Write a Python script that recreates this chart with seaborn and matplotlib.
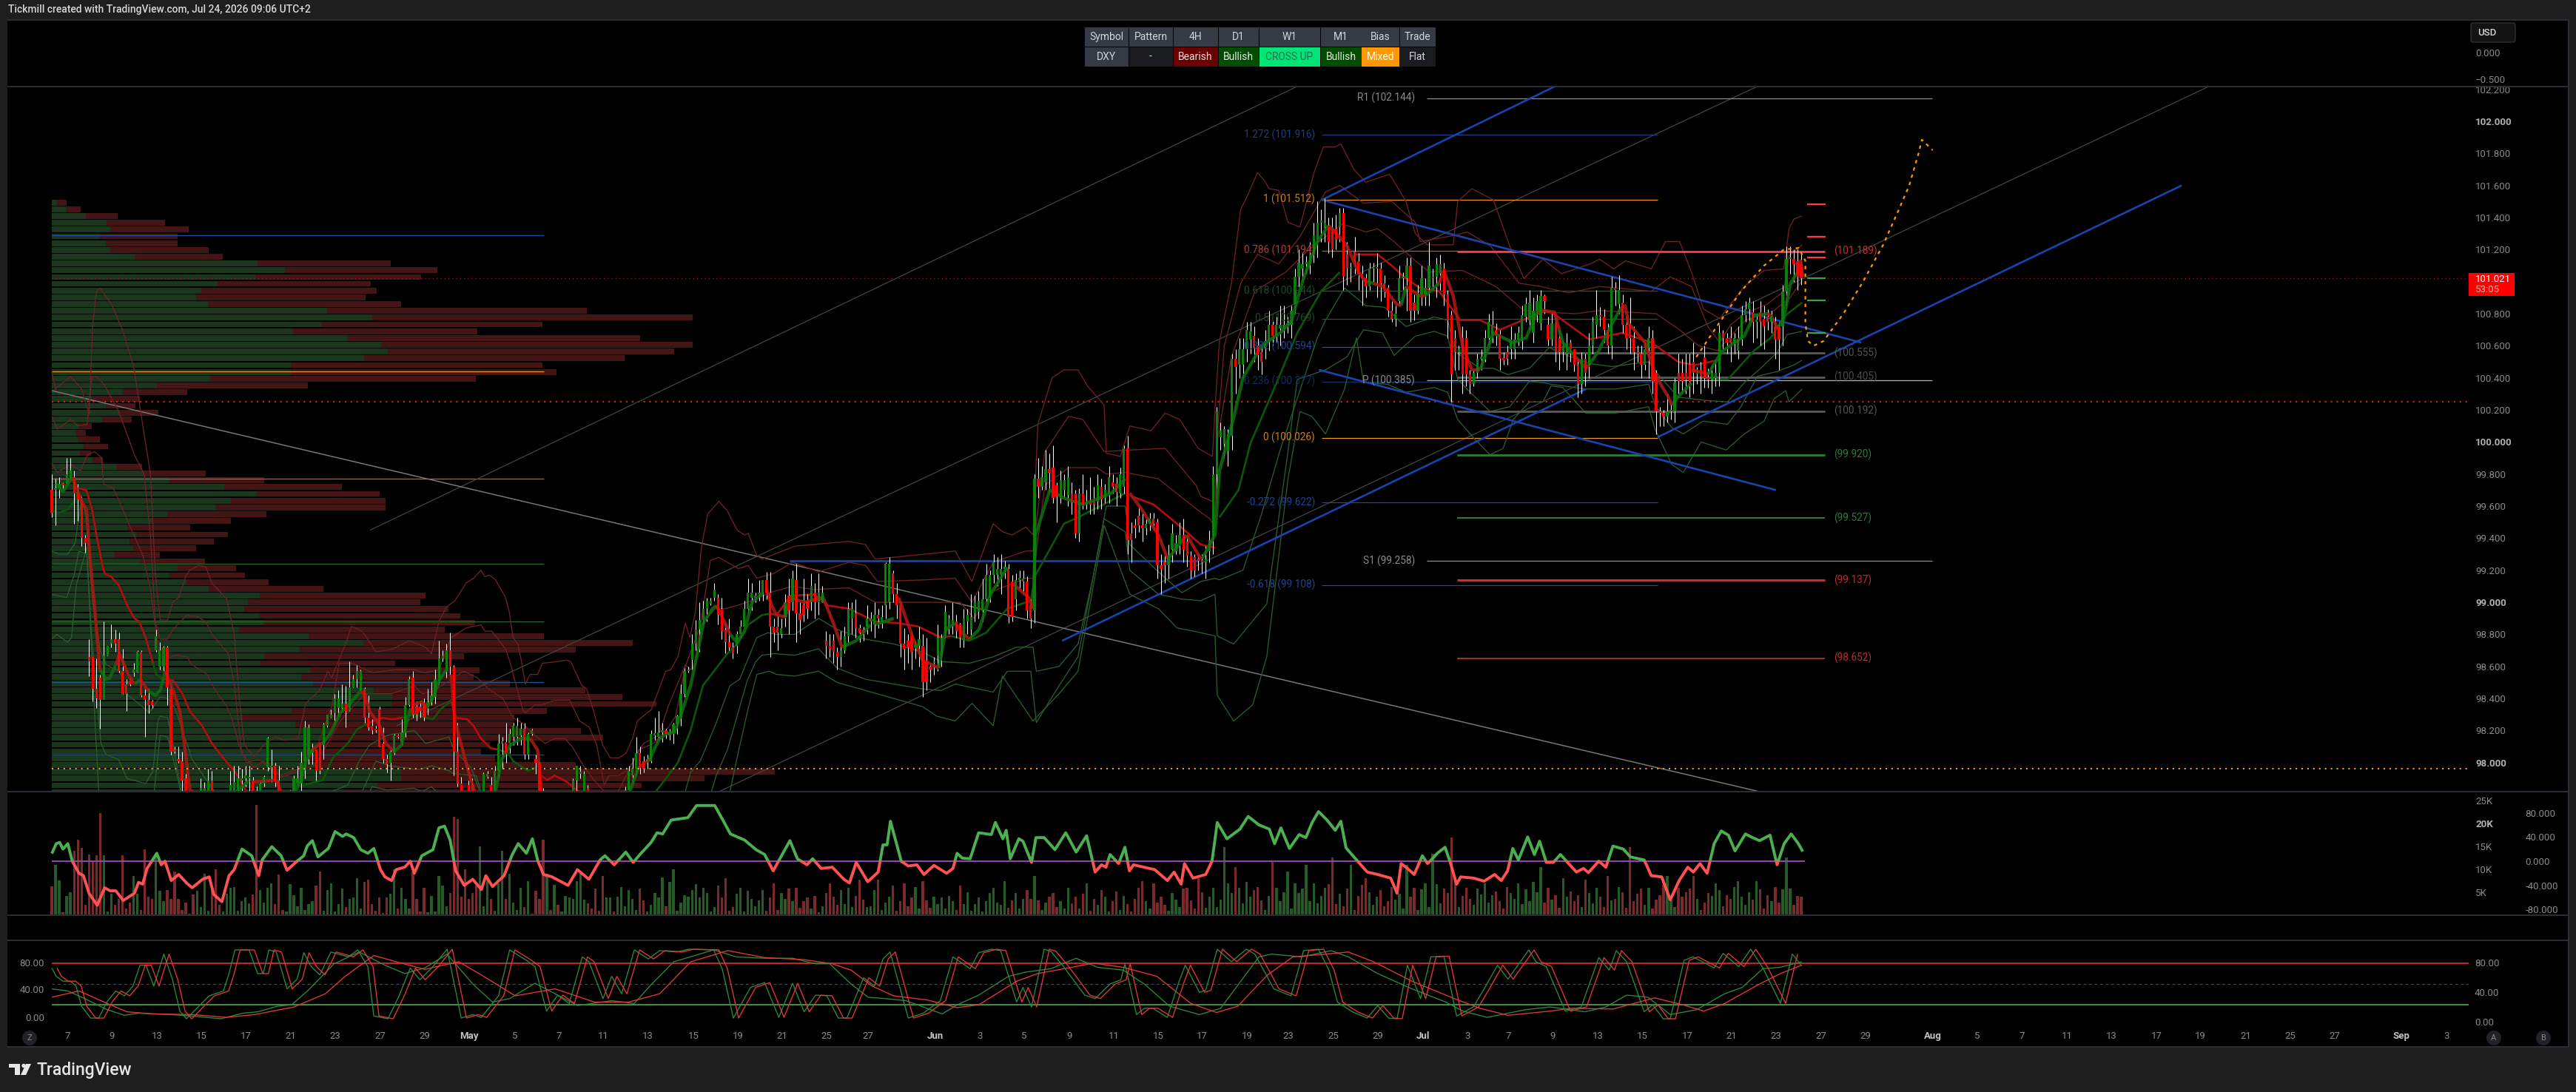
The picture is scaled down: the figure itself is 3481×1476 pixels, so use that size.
import matplotlib
matplotlib.use("Agg")
import matplotlib.pyplot as plt
from matplotlib.patches import Rectangle, Polygon, Ellipse, FancyBboxPatch
import numpy as np
import seaborn as sns

# ---- 4H DXY candles, prices in hundredths of an index point ----
OPENS = [
9970,9970,9971,9974,9974,9978,9978,9968,9963,9940, 9866,9866,9846,9853,9839,9867,9874,9877,9877,9857,
9849,9851,9856,9856,9869,9842,9839,9838,9870,9860, 9860,9872,9846,9808,9802,9801,9790,9778,9772,9765,
9772,9775,9778,9789,9768,9762,9755,9760,9770,9780, 9783,9789,9790,9790,9789,9780,9775,9787,9797,9797,
9798,9789,9775,9765,9768,9772,9787,9787,9801,9805, 9806,9808,9811,9811,9823,9828,9831,9834,9834,9837,
9832,9847,9852,9845,9846,9828,9823,9821,9833,9812, 9802,9800,9806,9817,9813,9819,9836,9853,9835,9835,
9837,9836,9838,9841,9851,9865,9857,9870,9860,9807, 9787,9775,9786,9786,9775,9768,9772,9791,9786,9775,
9795,9812,9813,9812,9816,9816,9817,9821,9805,9818, 9802,9800,9780,9770,9772,9768,9770,9765,9768,9770,
9775,9789,9793,9775,9784,9780,9772,9768,9765,9762, 9768,9770,9766,9772,9776,9783,9792,9796,9806,9801,
9801,9801,9817,9816,9819,9820,9817,9819,9824,9828, 9843,9857,9864,9874,9883,9889,9896,9899,9903,9903,
9896,9883,9875,9872,9873,9880,9885,9896,9903,9903, 9905,9906,9914,9906,9885,9885,9880,9891,9904,9900,
9914,9893,9898,9901,9900,9906,9900,9900,9876,9873, 9876,9869,9866,9870,9879,9890,9893,9884,9883,9885,
9888,9886,9892,9888,9898,9900,9918,9905,9898,9874, 9876,9879,9872,9873,9873,9863,9860,9862,9867,9867,
9881,9885,9886,9888,9886,9876,9888,9883,9893,9894, 9895,9902,9903,9917,9917,9917,9921,9921,9913,9902,
9914,9913,9913,9898,9895,9977,9972,9975,9983,9984, 9973,9966,9970,9967,9968,9968,9943,9968,9961,9962,
9963,9963,9972,9965,9968,9975,9974,9968,9972,9996, 9943,9948,9954,9948,9946,9949,9952,9950,9923,9925,
9923,9933,9932,9937,9942,9938,9929,9928,9927,9926, 9925,9932,9941,9980,10003,9999,9994,10004,10052,10048,
10048,10058,10064,10066,10060,10056,10059,10063,10073,10066, 10071,10071,10073,10073,10086,10103,10108,10111,10111,10117,
10126,10137,10134,10134,10133,10133,10134,10143,10117,10108, 10119,10113,10105,10102,10097,10108,10108,10108,10099,10096,
10082,10077,10088,10102,10102,10110,10087,10082,10092,10092, 10096,10102,10103,10105,10108,10092,10079,10065,10056,10065,
10065,10042,10036,10043,10052,10053,10065,10067,10070,10067, 10052,10056,10058,10058,10064,10063,10078,10076,10068,10082,
10074,10091,10073,10064,10074,10065,10056,10055,10062,10058, 10048,10036,10052,10048,10060,10073,10079,10078,10070,10060,
10096,10086,10087,10073,10073,10065,10056,10055,10048,10059, 10065,10043,10019,10018,10016,10019,10019,10043,10043,10043,
10048,10050,10042,10045,10053,10040,10039,10040,10043,10068, 10065,10065,10062,10057,10064,10079,10083,10081,10075,10081,
10077,10078,10075,10072,10072,10072,10094,10114,10114,10113, 10111,
]
CLOSES = [
9956,9970,9974,9973,9980,9982,9968,9964,9940,9937, 9863,9846,9840,9839,9867,9873,9877,9874,9857,9843,
9843,9849,9858,9869,9842,9839,9836,9836,9879,9870, 9872,9847,9807,9807,9801,9789,9775,9770,9765,9772,
9784,9784,9789,9770,9760,9755,9762,9770,9786,9788, 9790,9790,9792,9791,9780,9775,9787,9791,9815,9798,
9789,9775,9765,9768,9772,9790,9790,9800,9822,9822, 9808,9795,9795,9824,9830,9830,9840,9840,9837,9832,
9847,9852,9857,9857,9828,9822,9820,9820,9810,9802, 9799,9807,9817,9816,9819,9836,9852,9830,9830,9832,
9828,9837,9842,9852,9865,9867,9870,9860,9807,9787, 9775,9770,9775,9775,9768,9772,9793,9793,9775,9795,
9812,9813,9806,9818,9823,9823,9821,9805,9818,9820, 9800,9780,9770,9772,9768,9770,9765,9768,9770,9775,
9789,9798,9793,9793,9780,9772,9768,9765,9762,9768, 9770,9766,9772,9776,9783,9795,9796,9806,9797,9796,
9802,9818,9818,9819,9820,9818,9819,9824,9829,9843, 9857,9858,9874,9883,9889,9896,9901,9901,9908,9892,
9882,9875,9872,9868,9880,9885,9896,9906,9906,9904, 9905,9914,9906,9885,9881,9881,9884,9900,9895,9915,
9893,9889,9892,9896,9910,9900,9906,9906,9873,9871, 9869,9866,9870,9879,9896,9896,9884,9881,9881,9890,
9890,9892,9890,9891,9924,9924,9905,9898,9874,9871, 9872,9869,9872,9877,9850,9850,9858,9862,9878,9878,
9894,9890,9889,9882,9878,9890,9892,9891,9900,9901, 9902,9917,9917,9925,9921,9921,9921,9891,9891,9914,
9915,9915,9895,9890,9977,9972,9978,9983,9981,9965, 9966,9976,9976,9978,9963,9943,9968,9961,9962,9961,
9961,9973,9964,9970,9978,9972,9969,9980,9996,9939, 9939,9946,9948,9946,9949,9952,9949,9923,9921,9923,
9929,9943,9937,9942,9933,9929,9920,9920,9926,9925, 9927,9939,9980,10019,10007,10008,10005,10052,10047,10058,
10058,10070,10069,10059,10054,10050,10063,10073,10066,10073, 10073,10073,10073,10082,10103,10112,10111,10111,10117,10129,
10137,10137,10137,10125,10120,10126,10143,10103,10108,10108, 10113,10105,10102,10097,10108,10108,10108,10099,10096,10082,
10077,10080,10102,10102,10110,10082,10082,10092,10102,10096, 10110,10103,10111,10111,10092,10076,10042,10056,10058,10042,
10042,10036,10043,10052,10053,10065,10075,10073,10067,10052, 10051,10052,10064,10064,10068,10079,10086,10087,10082,10088,
10091,10088,10064,10074,10056,10056,10060,10062,10058,10048, 10036,10052,10043,10060,10075,10079,10078,10070,10060,10096,
10095,10095,10073,10065,10065,10056,10055,10048,10058,10065, 10038,10019,10018,10016,10019,10020,10037,10038,10038,10039,
10038,10043,10042,10041,10040,10039,10043,10043,10068,10065, 10062,10062,10065,10064,10079,10083,10087,10075,10075,10075,
10072,10075,10078,10064,10064,10094,10114,10114,10111,10103, 10102,
]
HIGHS = [
9980,9977,9978,9975,9990,9990,9982,9974,9966,9942, 9877,9866,9865,9855,9888,9873,9886,9883,9881,9871,
9852,9853,9862,9870,9870,9846,9846,9839,9883,9875, 9873,9873,9848,9810,9810,9807,9793,9783,9776,9778,
9790,9788,9796,9795,9775,9770,9770,9778,9795,9798, 9798,9796,9798,9798,9791,9785,9788,9792,9816,9808,
9800,9798,9780,9775,9783,9792,9798,9807,9826,9824, 9812,9808,9812,9825,9830,9833,9843,9845,9849,9848,
9863,9855,9861,9858,9847,9842,9827,9823,9835,9822, 9805,9808,9818,9818,9827,9841,9854,9857,9838,9838,
9840,9846,9850,9858,9876,9870,9874,9881,9861,9825, 9791,9780,9789,9790,9782,9778,9794,9795,9791,9798,
9818,9816,9825,9821,9825,9828,9825,9825,9819,9821, 9805,9801,9784,9778,9780,9776,9775,9774,9776,9778,
9790,9798,9798,9795,9786,9782,9776,9772,9770,9772, 9775,9776,9778,9780,9785,9798,9803,9816,9810,9804,
9805,9820,9828,9832,9825,9821,9821,9825,9830,9849, 9859,9860,9880,9889,9900,9901,9903,9903,9912,9905,
9903,9887,9890,9875,9882,9889,9901,9915,9912,9906, 9914,9914,9919,9919,9890,9892,9890,9905,9915,9920,
9924,9900,9915,9905,9918,9912,9918,9910,9882,9880, 9880,9872,9882,9885,9900,9900,9902,9886,9885,9898,
9894,9900,9896,9898,9925,9928,9920,9912,9900,9884, 9880,9882,9876,9885,9880,9878,9862,9866,9886,9880,
9898,9892,9900,9892,9887,9896,9896,9905,9904,9907, 9915,9924,9920,9930,9928,9930,9926,9924,9917,9918,
9920,9920,9916,9902,9980,9990,9985,9995,9993,9998, 9975,9982,9980,9985,9975,9970,9971,9980,9970,9978,
9972,9980,9977,9974,9985,9980,9978,9984,9998,10004, 9950,9952,9960,9956,9952,9956,9956,9952,9930,9930,
9936,9949,9942,9950,9952,9942,9932,9930,9930,9930, 9935,9945,9985,10022,10012,10010,10008,10055,10058,10065,
10065,10075,10075,10072,10065,10060,10070,10082,10076,10078, 10085,10085,10078,10085,10108,10120,10118,10116,10125,10137,
10150,10145,10152,10140,10140,10142,10146,10146,10125,10112, 10128,10118,10110,10105,10112,10112,10118,10112,10104,10098,
10088,10085,10110,10106,10115,10115,10092,10098,10110,10102, 10125,10108,10115,10117,10112,10095,10082,10070,10060,10072,
10070,10045,10045,10055,10058,10070,10080,10082,10074,10070, 10056,10060,10072,10068,10072,10085,10090,10095,10090,10092,
10095,10092,10078,10080,10078,10070,10064,10068,10064,10058, 10052,10056,10055,10068,10078,10095,10084,10083,10074,10103,
10100,10104,10092,10078,10090,10072,10060,10060,10062,10072, 10070,10045,10022,10020,10030,10024,10040,10055,10052,10055,
10055,10062,10047,10050,10060,10046,10048,10050,10073,10070, 10068,10072,10068,10072,10085,10088,10090,10088,10080,10088,
10085,10083,10082,10078,10075,10098,10122,10122,10120,10120, 10118,
]
LOWS = [
9953,9948,9965,9970,9975,9977,9949,9951,9935,9931, 9854,9838,9834,9821,9852,9867,9872,9869,9856,9843,
9832,9848,9854,9856,9841,9816,9831,9834,9869,9858, 9857,9836,9805,9806,9800,9778,9770,9765,9760,9760,
9768,9770,9775,9765,9755,9750,9750,9755,9765,9775, 9780,9782,9785,9782,9770,9768,9770,9785,9795,9788,
9785,9770,9760,9755,9765,9770,9785,9780,9790,9799, 9799,9789,9793,9802,9822,9828,9824,9829,9832,9822,
9832,9847,9847,9845,9825,9820,9818,9819,9810,9800, 9794,9789,9805,9815,9811,9816,9835,9828,9826,9828,
9826,9830,9836,9837,9849,9863,9853,9854,9792,9785, 9770,9765,9770,9770,9760,9762,9770,9790,9770,9770,
9790,9796,9800,9806,9811,9811,9811,9802,9802,9817, 9793,9775,9762,9760,9762,9760,9758,9760,9764,9766,
9770,9780,9790,9770,9775,9765,9762,9760,9755,9758, 9762,9760,9762,9768,9772,9780,9788,9792,9793,9794,
9796,9800,9814,9814,9813,9815,9814,9812,9818,9823, 9841,9856,9858,9870,9869,9886,9888,9898,9901,9886,
9877,9868,9870,9865,9868,9878,9886,9893,9895,9900, 9901,9901,9902,9866,9875,9870,9878,9885,9880,9895,
9875,9880,9888,9890,9895,9890,9892,9900,9865,9866, 9862,9858,9860,9868,9875,9880,9878,9875,9876,9880,
9882,9878,9884,9884,9890,9896,9900,9890,9866,9858, 9862,9858,9865,9860,9841,9845,9850,9855,9857,9860,
9878,9880,9880,9878,9872,9872,9880,9878,9888,9890, 9888,9900,9900,9912,9910,9905,9915,9887,9888,9895,
9908,9905,9890,9884,9887,9965,9970,9970,9968,9962, 9950,9962,9965,9960,9955,9940,9938,9958,9958,9955,
9955,9958,9958,9962,9962,9968,9960,9965,9968,9930, 9925,9940,9944,9938,9942,9945,9945,9915,9905,9912,
9915,9925,9930,9930,9925,9922,9915,9916,9920,9918, 9915,9925,9930,9965,9995,9990,9985,9995,10030,10040,
10040,10050,10055,10050,10045,10042,10052,10057,10060,10062, 10060,10065,10068,10065,10080,10095,10100,10105,10105,10112,
10115,10125,10125,10118,10115,10120,10125,10095,10098,10100, 10105,10095,10085,10090,10095,10100,10090,10088,10090,10078,
10075,10072,10085,10095,10082,10075,10076,10080,10085,10085, 10085,10095,10090,10095,10085,10065,10025,10045,10045,10030,
10035,10030,10035,10040,10045,10050,10060,10062,10060,10045, 10048,10048,10052,10052,10060,10058,10075,10070,10062,10075,
10070,10080,10060,10060,10050,10045,10050,10045,10050,10044, 10028,10030,10035,10040,10055,10065,10072,10062,10055,10052,
10085,10080,10068,10058,10055,10045,10050,10040,10045,10040, 10030,10005,10010,10010,10012,10014,10012,10030,10030,10030,
10028,10030,10036,10030,10034,10034,10030,10035,10035,10058, 10055,10050,10055,10052,10060,10075,10075,10062,10065,10060,
10058,10070,10068,10052,10045,10060,10085,10105,10100,10095, 10098,
]

# traded volume per bar, in hundreds of contracts
VOLUME = [
63,110,76,6,42,50,140,165,147,23, 133,117,130,223,130,8,47,23,36,130,
14,28,86,47,12,143,40,36,130,53, 30,55,36,95,36,12,28,4,45,54,
18,90,10,60,100,22,8,47,60,62, 10,30,38,26,45,240,55,28,60,70,
25,88,12,8,68,44,20,60,12,25, 30,65,95,10,55,70,8,25,58,18,
35,38,80,15,72,78,25,10,38,5, 38,46,100,14,60,36,15,95,36,8,
60,6,42,8,85,64,20,48,215,210, 40,100,35,48,65,150,20,85,36,10,
70,140,35,90,28,12,60,18,75,4, 54,35,165,90,12,66,22,8,42,38,
35,75,90,34,26,15,58,10,85,38, 38,8,40,62,20,55,35,12,58,33,
8,22,48,38,82,20,72,100,10,27, 43,40,55,68,38,60,48,8,18,65,
38,80,10,18,46,60,8,54,36,20, 32,55,10,38,70,12,48,36,58,30,
60,16,30,38,15,42,6,20,48,70, 40,22,55,24,60,18,42,78,34,18,
20,55,78,12,28,40,65,10,30,70, 20,38,62,14,75,32,16,40,24,38,
15,42,30,12,65,24,50,10,24,38, 8,30,48,60,28,22,75,16,32,48,
14,36,55,35,86,32,12,28,40,48, 18,30,15,60,26,40,14,46,70,10,
36,22,55,40,8,30,52,12,42,24, 8,36,60,75,30,14,70,28,40,22,
10,48,34,18,58,60,32,14,80,50, 16,40,60,18,34,148,70,48,105,60,
26,72,40,55,62,32,12,42,120,60, 30,50,95,14,70,48,58,110,30,70,
26,42,60,68,126,24,46,20,58,110, 12,42,66,80,50,22,40,55,20,30,
62,34,46,14,110,40,60,12,56,70, 18,134,68,26,58,48,170,72,18,42,
60,36,22,58,45,70,28,44,52,30, 14,62,48,36,70,24,56,30,72,50,
105,28,60,34,44,16,80,40,52,30, 44,18,77,48,26,60,40,18,85,32,
36,62,50,16,149,30,46,58,22,60, 14,34,44,66,85,32,18,60,40,50,
58,85,36,12,28,48,42,70,55,20, 44,36,62,75,40,22,50,34,75,56,
14,44,30,62,28,56,126,58,22,42, 40,
]

# volume-by-price profile, top row first
PROFILE_BUY = [
11,31,72,116,124,102,114,124,176,436, 496,431,352,316,306,332,584,677,570,511,
626,698,712,662,506,506,336,222,150,85, 115,145,106,58,52,55,68,60,86,138,
195,250,366,435,380,346,244,214,160,180, 164,172,132,186,266,250,285,332,440,416,
408,440,448,396,544,660,526,450,442,548, 528,554,682,722,720,508,404,516,590,580,
570,540,530,570,740,740,690,620,
]
PROFILE_SELL = [
20,30,67,124,166,164,152,208,186,282, 321,351,324,372,359,408,549,681,469,390,
620,660,606,551,533,563,562,320,137,101, 62,81,63,26,20,47,51,23,22,53,
131,200,248,259,327,361,210,165,133,193, 179,134,97,138,124,159,174,243,352,365,
432,425,449,436,498,571,584,423,285,358, 366,416,448,487,561,541,576,464,531,588,
358,369,410,540,792,643,559,600,
]

# envelope bands around the session average as (bar, price)
BAND_R3 = [(0,100.44),(1,100.33),(5,100.41),(8,100.33),(10,100.17),(11,100.73),(12,100.94),(13,100.96),(16,100.86),(19,100.70),(22,100.47),(24,100.17),
(26.5,99.8),(27.8,99.18),(29.1,98.89),(31.1,98.89),(32.5,99.0),(34.1,99.03),(36.1,99.17),(37.1,99.2),(39.4,99.23),(41.4,99.22),(43,99.12),(47,99.02),(49,98.8),(50.3,98.42),(51.7,98.11),(54.3,98.04),(57,98.11),(60,98.16),(62.3,98.14),(66.2,98.15),(68.2,98.37),(71.9,98.45),(74.2,98.57),(75.2,98.53),(79.1,98.75),(80.5,98.85),(83.4,98.82),(87.1,98.69),(91.7,98.71),(96,98.76),
(100.4,98.72),(102,98.68),(104,98.88),(106,98.97),(108.3,99.01),(111.3,99.12),(113.3,99.15),(115.3,99.2),(116.3,99.16),(117.6,99.17),(119.2,99.14),(121.9,99.03),(122.9,98.94),(123.9,98.78),(125.2,98.74),(126.2,98.63),(127.2,98.49),(128.5,98.55),(130.5,98.55),(131.8,98.62),(135.8,98.63),(138.4,98.64),(139.4,98.63),(142.4,98.48),(143.7,98.46),(145.7,98.31),(148,98.11),(150,98.03),(152.4,98.03),(154.3,98.06),(156,98.15),(157.3,98.26),(161,98.33),(163,98.45),(164.9,98.57),(166.3,98.58),(168.2,98.66),(170.2,98.87),(171.4,98.78),(172.9,98.94),(174.5,99.34),(176.2,99.55),(179.2,99.63),(181.5,99.57),(184.1,99.45),(186.1,99.42),(187.1,99.43),(189.4,99.29),(190.8,99.27),
(199.6,99.35),(214.2,99.38),(218.6,99.36),(221.2,99.27),(234.5,99.3),(242.7,99.32),(247.2,99.13),(252.9,99.49),(255.4,99.44),(258,99.42),(261.7,99.47),(263.6,99.42),(264.9,100.11),(268.7,100.4),(271.9,100.45),(275.7,100.45),(278.2,100.35),(282.7,100.23),(283.3,99.93),(287.1,99.91),(289.6,100.1),(295.3,100.07),(299.1,100.18),(303,100.14),(308,99.96),(311.8,99.91),(312.7,100.28),
(313.7,100.63),(316.9,100.99),(319.4,101.45),(321.3,101.54),(323.9,101.68),(325.8,101.63),(327,101.58),(329.6,101.57),(332.1,101.37),(335.3,101.34),(339.1,101.68),(341.6,101.84),(344.8,101.84),(346.3,101.86),(349.8,101.7),(353,101.62),(359.4,101.67),(363.8,101.5),(366.3,101.3),(369.5,101.23),(376.5,101.23),(377.7,101.5),(381.5,101.58),(387.3,101.51),(391.7,101.22),(395.5,101.02),(400.6,101.14),(405.6,101.05),(413.2,101.11),(415.8,101.14),(419.6,101.08),(422.8,101.13),(429.7,101.08),(433.5,101.25),(437.3,101.25),(440.5,101.06),(443.7,100.83),(448.1,100.77),(450,100.83),(454.7,100.97),(460,101.07),(465.3,101.08),(466.7,101.33),(468,101.39),(470.2,101.41)]
BAND_R2 = [(0,100.16),(1.5,100.08),(5.1,100.14),(7,100.1),(9.5,100.11),(10.8,100.41),(12,100.41),(14,100.36),(18,100.19),(22.2,99.92),(24.8,99.8),(26.5,99.42),(27.8,98.88),(29.1,98.77),(31.1,98.77),(32.5,98.83),(36.3,98.92),(39.1,98.91),(41.4,98.88),(43,98.8),(47.4,98.68),(49,98.49),(51,98.06),(54.3,97.97),(57,98.01),(61.6,97.92),(66.2,97.96),(68.2,98.03),(70.9,98.08),(75.2,98.35),(77.2,98.62),(80.8,98.62),(86.1,98.56),(92,98.58),(97.4,98.58),
(100,98.56),(104,98.58),(107.3,98.78),(111.3,98.84),(115.3,98.86),(116.3,98.82),(118.2,98.82),(121.9,98.71),(123.2,98.62),(124.2,98.53),(126.5,98.33),(127.2,98.31),(129.8,98.36),(131.8,98.36),(135.1,98.39),(139.1,98.39),(141.8,98.26),(144.4,98.22),(146.4,98.11),(148.4,97.86),(149.7,97.92),(152.4,97.92),(155,97.96),(159,98.12),(163,98.17),(165.6,98.35),(170.2,98.61),(171.6,98.58),(172.6,98.6),(174.5,98.89),(176.9,99.26),(179.2,99.28),(184.5,99.21),(187.1,99.23),(189.4,99.15),(194,99.18),
(199,99.25),(206,99.19),(214.2,99.25),(218.6,99.23),(221.8,99.13),(234.5,99.14),(242.7,99.15),(247.2,99.0),(252.9,99.25),(261.7,99.32),(263.6,99.32),(266.8,99.94),(273.2,100.16),(277,100.14),(282.7,99.94),(289.6,99.95),(299.1,99.96),(307.4,99.73),(308.7,99.66),(311.8,99.63),(312.5,99.49),
(313.1,100.05),(315,100.6),(319.4,100.99),(323.9,101.17),(329.6,101.11),(335.3,101.28),(342.2,101.56),(346,101.6),(352.4,101.49),(360,101.5),(366.3,101.37),(367.6,101.25),(377.1,101.29),(380.3,101.31),(386.6,101.22),(394.2,100.99),(400,100.97),(407.5,100.93),(415.8,100.97),(429.7,100.94),(434.8,101.03),(440.5,100.97),(444.9,100.72),(448.1,100.62),(451,100.73),(454.7,100.8),(460.9,100.86),(465.3,100.94),(466.7,101.16),(470.2,101.23)]
BAND_R1 = [(0,99.87),(1.4,99.81),(5.1,99.86),(7.7,99.82),(9.6,99.92),(11.5,99.94),(13.4,99.9),(13.9,99.74),(16.6,99.71),(20.9,99.48),(24.5,99.29),(26.5,99.08),(27.8,98.85),(29.1,98.62),(31.1,98.65),(33,98.67),(36.3,98.66),(37.7,98.61),(39.7,98.58),(41.7,98.55),(43.7,98.46),(47,98.35),(48.3,98.28),(50.3,98.11),(52.3,98.0),(55.6,98.02),(61.6,97.91),(66.9,97.95),(70.9,97.99),(77.5,98.26),(84.1,98.43),(91.4,98.43),(97.4,98.48),(99.4,98.43),(102,98.44),
(110.6,98.57),(114.3,98.53),(117.3,98.46),(121.2,98.4),(123.9,98.28),(126.2,98.25),(129.8,98.17),(132.5,98.12),(135.1,98.15),(137.8,98.15),(139.8,98.1),(143.1,97.97),(145.7,97.89),(148.4,97.82),(151.7,97.8),(155,97.95),(157.7,98.08),(161.6,98.12),(165.6,98.22),(167.6,98.29),(170.2,98.6),(174.2,98.85),(178.2,98.96),(180.8,98.96),(184.1,98.98),(189.1,99.02),(192.8,99.06),
(199,99.1),(204.7,99.08),(214.2,99.09),(221.2,99.0),(234.5,99.0),(244,99.0),(247.8,98.9),(252.9,99.07),(261.7,99.15),(263.6,99.15),(266.8,99.73),(273.2,99.84),(280.8,99.84),(283.3,99.8),(288.4,99.81),(297.3,99.77),(308.7,99.56),(311.2,99.52),(312.5,99.46),
(313,99.99),(316.9,100.53),(323.2,100.94),(331.5,101.06),(337.2,101.19),(346.7,101.36),(353,101.31),(356.2,101.33),(360.6,101.25),(366.3,101.13),(370.1,101.06),(379,101.07),(387.9,100.97),(395.5,100.82),(400.6,100.81),(409.4,100.8),(415.8,100.82),(431,100.8),(437.3,100.7),(442.4,100.6),(447.5,100.57),(455,100.76),(462.7,100.82),(467,100.9),(470,101.0)]
BAND_G1 = [(0,99.32),(2,99.3),(4.3,99.3),(6.3,99.37),(7,99.49),(8,99.65),(9.4,99.52),(11,99.0),(13,98.7),(14.6,98.61),(18.2,98.57),(20.5,98.42),(23.8,98.36),(26.2,98.31),(29.1,98.41),(31.1,98.4),(33.1,98.34),(37.7,98.02),(43.7,97.82),(50,97.7),(70,97.7),(75.2,97.82),(79.5,97.86),(82.8,98.02),(85.4,98.11),(90,98.17),(97.4,98.2),(100.4,98.12),(106.7,98.16),(108,98.08),(112.6,97.97),(115.3,97.8),(130,97.6),(160,97.6),(170.2,97.82),(171.6,97.94),(174.2,98.01),(178.2,98.23),(182.2,98.48),(184.8,98.52),(187.8,98.69),(189.4,98.78),(192.4,98.81),(194.7,98.8),
(199.6,98.8),(206,98.9),(211,98.83),(218.6,98.77),(226.2,98.74),(233.9,98.69),(238.9,98.63),(246.5,98.62),(252.9,98.66),(259.2,98.72),(263.6,98.72),(264.5,98.57),(270.6,98.6),(275.7,98.74),(279.5,99.13),(283.3,99.6),(288.4,99.6),(289.6,99.36),(297.3,99.19),(303.6,99.06),(308.7,99.13),(312.5,99.15),(313.7,99.14),(320,99.2),(325,99.55),(330,99.95),(335,100.3),(340,100.65),(342.2,100.76),(347.3,100.96),(353,100.85),(358.1,100.84),(363.8,100.72),(371.4,100.78),(375,100.76),(377.1,100.56),(383.7,100.46),(387.2,100.46),(391.2,100.42),(397,100.46),(402.3,100.59),(405.9,100.55),(413,100.49),(419.2,100.47),(425.4,100.49),(429,100.5),(431.6,100.42),(436.9,100.28),(444,100.26),(450.2,100.25),(454.7,100.37),(459.1,100.46),(463.6,100.56),(466.2,100.67),(470.2,100.69)]
BAND_G2 = [(0,99.05),(4,99.03),(6,99.17),(7.3,99.32),(9.4,99.3),(10.9,98.72),(13.2,98.12),(14.6,98.05),(17.9,98.02),(20.2,97.9),(25.2,97.87),(27.2,97.95),(28.5,98.26),(29.1,98.29),(31.1,98.28),(32.5,98.12),(34.8,97.82),(50,97.6),(70,97.5),(83.4,97.82),(87.1,98.01),(90.7,97.98),(97.4,97.96),(99.4,97.96),(102,97.98),(106.7,97.95),(108,97.93),(114,97.92),(115.3,97.82),(125,97.6),(150,97.6),(177.2,97.82),(178.5,97.92),(181.5,98.08),(184.1,98.29),(186.8,98.51),(189.1,98.63),(190.8,98.67),(194,98.68),
(199.6,98.67),(206,98.71),(211,98.59),(218.6,98.52),(226.2,98.49),(233.9,98.46),(238.9,98.45),(242.7,98.49),(252.9,98.44),(256.7,98.57),(263,98.57),(264.5,98.25),(270.6,98.48),(275.7,98.66),(282.7,99.52),(288.4,99.44),(289.6,99.2),(297.3,99.05),(303.6,99.02),(308.7,99.01),(312.5,99.05),(313.1,98.79),(317.5,98.74),(326.4,98.99),(332.1,99.94),(334.6,100.39),(342.2,100.45),(347.9,100.53),(352.4,100.7),(357.5,100.68),(360.6,100.54),(366.3,100.66),(371.4,100.69),(375,100.66),(377.7,100.39),(381.5,100.3),(386.4,100.19),(391.7,100.22),(397,100.38),(400.6,100.37),(402.8,100.36),(412.1,100.33),(420.1,100.33),(429,100.36),(430.7,100.23),(435.2,100.09),(438.3,100.05),(443.6,100.13),(450.2,100.11),(453.8,100.22),(458.2,100.41),(463.6,100.44),(468,100.48),(470.2,100.51)]
BAND_G3 = [(0,98.77),(1.3,98.8),(4.3,98.75),(5.3,98.78),(6.6,99.11),(9.4,99.34),(11.6,98.26),(12.6,97.82),(20,97.5),(27.5,97.82),(29.1,98.17),(31.1,98.16),(33.1,97.98),(34.8,97.8),(80,97.5),(86,97.85),(90,97.83),(97.4,97.84),(99.4,97.82),(102,97.85),(103.3,97.82),(120,97.5),(182.2,97.82),(184.1,98.03),(187.1,98.34),(189.4,98.55),(192.8,98.57),(194.7,98.55),
(199.6,98.54),(206,98.57),(211,98.5),(218.6,98.45),(226.2,98.4),(233.9,98.35),(237.7,98.29),(242.7,98.26),(247.2,98.37),(252.9,98.23),(255.4,98.54),(263.6,98.26),(270.6,98.43),(275.7,98.57),(282.7,99.48),(289.6,99.05),(297.3,98.96),(302.3,98.84),(306.8,98.82),(312.5,98.79),(313.1,98.42),(317.5,98.26),(322.6,98.36),(326.4,98.66),(332.1,99.77),(335.3,100.19),(338.5,100.16),(342.2,100.05),(347.3,100.33),(350.5,100.65),(352.4,100.37),(358.8,100.36),(363.8,100.31),(371.4,100.34),(375,100.31),(377.7,100.14),(382.2,100.02),(386.4,99.92),(389.9,99.96),(392.6,100.14),(397,100.25),(400.6,100.25),(402.8,100.35),(405.9,100.34),(412.1,100.18),(420.1,100.18),(429,100.22),(430.7,100.08),(435.2,99.86),(438.3,99.81),(443.1,100.0),(449.8,99.95),(454.7,100.05),(460,100.13),(462.7,100.27),(465.8,100.32),(466.7,100.25),(470.2,100.33)]

# slow average, split into rising and falling stretches
SLOW_RISING = [
[(0,99.57),(2,99.56),(4.3,99.58),(6.3,99.64),(7,99.71)],
[(27.2,98.62),(28.1,98.55),(29.8,98.52)],
[(67.5,97.86),(72.8,97.89),(75.5,98.03),(79.5,98.12),(82.1,98.21),(85.4,98.25)],
[(94,98.28),(97.4,98.3),(102.4,98.27),(104.7,98.34),(107.3,98.38)],
[(120.2,98.08),(122.6,98.06),(123.9,98.01),(127.8,97.95),(130.2,97.97)],
[(162.3,97.82),(165.6,97.92),(168.2,98.0),(171.6,98.2),(174.9,98.48),(178.2,98.58),(181.5,98.68),(184.5,98.75),(187.1,98.86),(190.8,98.92),(193.1,98.93)],
[(241.5,98.79),(246.5,98.76),(251,98.81),(256.7,98.96),(263,99.01),(264.3,99.17),(271.9,99.49),(275.7,99.53),(288.4,99.68)],
[(313.7,99.53),(318.8,99.7),(322,99.99),(329.6,100.4),(334.6,100.68),(341,100.94),(346,101.06)],
[(445.8,100.39),(450.2,100.39),(453.8,100.48),(457.3,100.57),(461.8,100.65),(465.8,100.79),(470.2,100.87)],
]
SLOW_FALLING = [
[(7,99.71),(9.3,99.7),(10.9,99.57),(11.9,99.43),(13.6,99.23),(14.2,99.18),(15.9,99.16),(17.9,99.11),(20.5,98.97),(22.2,98.9),(23.5,98.88),(25.2,98.78),(27.2,98.62)],
[(29.8,98.52),(31.1,98.52),(32.7,98.51),(35.1,98.43),(37.1,98.32),(40.4,98.23),(43,98.12),(46.4,98.02),(49.3,97.94),(52.3,97.82)],
[(85.4,98.25),(88.7,98.28),(91.4,98.27),(94,98.28)],
[(107.3,98.38),(108.6,98.28),(111.6,98.27),(113.3,98.23),(115.3,98.15),(117.9,98.09),(120.2,98.08)],
[(131.5,97.92),(133.1,97.89),(135.1,97.92),(138.4,97.88),(140.4,97.84),(143,97.8)],
[(193.1,98.93),(194.7,98.92),(198.4,99.04),(204.7,99.05),(208.5,98.98),(214.2,98.96),(221.2,98.88),(227.5,98.87),(232.6,98.85),(238.9,98.78),(241.5,98.79)],
[(290.3,99.66),(296,99.61),(302.3,99.49),(308.7,99.36),(312.5,99.34)],
[(349.8,101.17),(356.2,101.17),(360,101.1),(363.2,101.03),(367.6,100.96),(372.7,100.94),(378.4,100.76),(383.7,100.76),(389,100.7),(401.4,100.82),(404.1,100.79),(413,100.64),(421.9,100.68),(429.8,100.62),(436.9,100.5),(441.4,100.48),(447.6,100.51)],
]
# fast average, same split
FAST_RISING = [
[(1.3,99.74),(3,99.69),(4.6,99.75),(5.6,99.78)],
[(12.9,98.58),(14.6,98.52),(15.6,98.53),(17.2,98.61)],
[(22.2,98.49),(23.8,98.52)],
[(25.8,98.45),(27.8,98.42),(29.1,98.45),(30.5,98.57)],
[(49.7,97.82),(53,97.89)],
[(64,97.75),(66.9,97.89),(68.2,98.0),(69.9,98.08)],
[(72.8,98.12),(74.8,98.18),(77.5,98.31),(80.1,98.37),(82.8,98.44)],
[(92,98.07),(94,98.11),(95.4,98.26),(96.4,98.34)],
[(100.7,98.34),(102.7,98.42),(104,98.51),(106,98.58)],
[(119.2,97.82),(120.9,98.02),(123.2,98.11),(125.9,98.15),(128.5,98.15)],
[(155.3,97.82),(157.6,97.97)],
[(160.6,98.02),(163,98.14),(165,98.18),(167.3,98.19),(168.9,98.29),(171.6,98.48),(173.5,98.69),(175.2,98.88),(177.5,98.96),(178.5,98.98)],
[(182.2,98.8),(184.1,98.75),(186.1,98.82),(188.1,99.0),(191.1,99.06)],
[(212.3,98.72),(216.1,98.76),(219.9,98.86)],
[(221.2,98.86),(226.2,98.9)],
[(238.3,98.59),(240.2,98.83),(242.7,98.87)],
[(246.5,98.77),(249.1,98.83),(252.2,99.05),(256.7,99.22)],
[(263.6,98.96),(264.3,99.42),(268.1,99.7),(271.9,99.65),(277,99.61),(284.6,99.68),(288.4,99.77)],
[(299.8,99.27),(304.9,99.42)],
[(309,99.27),(312.5,99.42),(313.7,99.82),(317.5,100.15),(320,100.4),(325,100.6),(330,100.68),(333,100.75),(336,101.0),(340,101.25),(343,101.35)],
[(353,101.0),(355,100.99)],[(362.5,100.85),(363.8,100.97)],[(368.9,100.91),(372.7,100.99)],
[(383.7,100.45),(385.5,100.56),(387.2,100.68),(389.9,100.65),(392.6,100.62),(396.1,100.65),(399.2,100.82)],
[(405,100.7),(405.9,100.62),(409.4,100.53)],
[(413,100.48),(415.6,100.57),(419.2,100.74),(421.4,100.83)],
[(435.2,100.23),(436.9,100.28),(440.5,100.37)],
[(444.9,100.42),(448.5,100.56),(452,100.62),(454.7,100.66),(457.3,100.79),(460.9,100.8)],
[(463.6,100.71),(465.3,100.77),(467.1,100.99),(469.3,101.07)],
]
FAST_FALLING = [
[(5.6,99.78),(8,99.63),(9.3,99.58),(10.3,99.26),(11.6,98.94),(12.9,98.58)],
[(17.2,98.61),(18.2,98.68),(20.5,98.55),(22.2,98.49)],
[(23.8,98.52),(25.8,98.45)],
[(30.5,98.57),(33.1,98.42),(34.4,98.32),(35.8,98.08),(37.1,97.83),(41,97.77)],
[(54,97.88),(60.3,97.89),(61.6,97.82),(64,97.75)],
[(69.9,98.08),(72.2,98.12),(72.8,98.12)],
[(82.8,98.44),(84.1,98.43),(85.4,98.32),(88.1,98.23),(89.7,98.12),(92,98.07)],
[(97.4,98.36),(99.4,98.38),(100.7,98.34)],
[(107.3,98.55),(108.3,98.26),(110.6,98.06),(112.6,97.89),(113.9,97.8)],
[(128.5,98.15),(130.5,98.08),(131.5,97.82)],
[(157.6,97.97),(160.6,98.02)],
[(178.5,98.98),(180.5,98.89),(182.2,98.8)],
[(192.1,99.08),(193.4,98.98),(194.7,98.92),(197.1,98.91),(198.4,99.03),(202.2,99.0),(207.2,99.03),(209.8,98.88),(212.3,98.72)],
[(227.5,99.03),(231.3,98.78),(233.9,98.64),(238.3,98.59)],
[(242.7,98.87),(244.6,98.81),(246.5,98.77)],
[(258,99.12),(262.4,99.03),(263.6,98.96)],
[(289.6,99.68),(292.2,99.6),(297.3,99.42),(299.8,99.27)],
[(304.9,99.42),(308.7,99.27)],
[(343,101.35),(346,101.28),(348,101.22),(351,101.06),(353,101.0)],
[(355,100.99),(357.5,100.97),(361.3,100.86),(362.5,100.85)],
[(363.8,100.97),(367.6,100.91),(368.9,100.91)],
[(372.7,100.99),(374,101.07),(376.5,100.91),(379,100.6),(381.5,100.45),(383.7,100.45)],
[(399.2,100.82),(400.6,100.82),(403.7,100.81),(405,100.7)],
[(409.4,100.53),(412.1,100.46),(413,100.48)],
[(421.4,100.83),(422.7,100.85),(423.6,100.74),(428,100.62),(430.7,100.42),(434.3,100.28),(435.2,100.23)],
[(440.5,100.45),(444,100.43),(444.9,100.42)],
[(460.9,100.8),(461.8,100.79),(463.6,100.71)],
[(469.3,101.07),(469.8,101.13),(470.5,101.03)],
]

# drawn studies
TRENDLINES_GRAY = [[(85.5,99.45),(334.8,102.22)],[(92.6,98.23),(458.4,102.22)],[(179.3,97.82),(579.7,102.22)]]
TRENDLINE_DOWN = [(0,100.32),(460.4,97.81)]
CHANNELS_BLUE = [[(341.2,101.51),(404,102.22)],[(341.2,101.51),(486.1,100.62)],[(340.4,100.45),(463.2,99.70)],
                 [(271.4,98.76),(412.1,100.33)],[(431.4,100.03),(572.2,101.6)],[(198.2,99.26),(308.2,99.26)]]
PROJECTION = [(441.8,100.53),(447.6,100.73),(453.8,100.94),(460,101.1),(465.3,101.2),(469.3,101.21),(471.1,101.13),(471.1,100.74),(471.8,100.63),(473.3,100.6),(476,100.63),(481.3,100.8),(486.6,101.0),(492,101.23),(496.4,101.46),(499,101.6),(501.5,101.8),(502.4,101.885),(505.3,101.82)]

FIB_LABELS = ["1.272 (101.916)","1 (101.512)","0.786 (101.194)","0.618 (100.944)","0.5 (100.769)","0.382 (100.594)","0.236 (100.377)","0 (100.026)","-0.272 (99.622)","-0.618 (99.108)"]
FIB_LEVELS = [101.916,101.512,101.194,100.944,100.769,100.594,100.377,100.026,99.622,99.108]
FIB_COLORS = ["#1b3f8b","#f59a23","#f44336","#1f5f2a","#1f5f2a","#1c56c8","#132f6e","#f59a23","#1c4aa8","#1c4aa8"]
FIB_TEXT = ["#1c3f80","#c97f1c","#b23a34","#1c4a24","#1c4a24","#1c4590","#142c60","#c97f1c","#1c4590","#1c4590"]
PIVOT_LABELS = ["R1 (102.144)","P (100.385)","S1 (99.258)"]
PIVOT_LEVELS = [102.144,100.385,99.258]
ZONE_LEVELS = [101.189,100.555,100.405,100.192,99.920,99.527,99.137,98.652]
ZONE_COLORS = ["#ff3b47","#5a5a5a","#5a5a5a","#5a5a5a","#2e7d32","#2e7d32","#e02424","#b83a3a"]
ZONE_WIDTHS = [2.0,2.0,2.0,2.0,2.0,1.4,2.2,1.2]
ZONE_TEXT = ["#b8323c","#555555","#4a4a4a","#555555","#2e7d32","#2e7d32","#c62828","#b03030"]
PROFILE_MARKS = [101.29,100.44,99.77,99.24,98.88,98.50,98.05]
PROFILE_MARK_COLORS = ["#1c4fa8","#f59a23","#e0502e","#2f6b35","#2f6b35","#1f5a8c","#2a4a6a"]
TARGET_UP = [101.484,101.28,101.15]
TARGET_DOWN = [101.02,100.885,100.68]
LAST_PRICE = 101.021
SUPPORT_DOTTED = 100.25
LOW_DOTTED = 97.96

# momentum oscillator as (bar, value)
CCI = [(0,12.6),(1.2,29),(2.1,31),(3,20),(4.3,29),(5.5,0),(7.3,-20),(8.5,-24),(10,-53),(12.2,-73),(14.2,-44),(15.7,-49),(17.2,-49),(19.2,-65),(22.2,-53),(23.3,-35),(24.4,-38),(25.6,-12),(28.2,13),(29.4,-6),(30.4,0),(32.1,-32),(34.1,-22),(36.2,-36),(37.7,-44),(40.5,-30),(42.3,-26),(43.5,-55),(45.7,-67),(47.6,-24),(49,-14),(51.1,20),(53.7,9),(55.6,-24),(56.5,2),(59.1,24),(61.6,9),(63.2,-15),(65.9,0),(67.7,9),(68.6,25),(70,34),(71.5,7),(74.3,21),(76.1,49),(78.1,41),(79.1,45),(81.1,39),(83,19),(84.9,13),(86.5,21),(88.3,-14),(89.5,-26),(91.3,-32),(92.5,-14),(94.8,-10),(96.3,0),(97.4,-20),(99.4,9),(102.4,19),(104,55),(105.5,58),(107,35),(108.5,-16),(110.8,-40),(113.1,-30),(115.4,-47),(116.6,-24),(118.4,-42),(121.5,-24),(123.7,11),(125.3,29),(127.5,13),(129.1,37),(130.6,0),(132.1,-22),(134.4,-26),(138.7,-40),(141.2,-14),(144.3,-30),(147.3,2),(148.6,9),(151.1,-6),(154.2,15),(156.2,-2),(158,11),(161,31),(162.6,47),(164.1,45),(166.4,68),(170.9,72),(173.2,92),(178.1,92),(180.1,70),(182.3,45),(186.1,35),(189.2,19),(191.5,11),(193.8,-16),(198.3,34),(200.3,4),(202.9,-6),(204.4,4),(206.7,-12),(209.7,-10),(212.8,-30),(214.3,-36),(216.1,-2),(219.2,-34),(222,-18),(223.3,27),(224.4,27),(225.3,66),(226.7,34),(228.2,0),(230.1,-8),(232.4,-6),(234.3,-22),(237,-7),(240.4,-20),(242.1,-12),(243.2,13),(244.6,5),(246.7,4),(249,47),(252.4,44),(253.5,64),(255.5,37),(256.4,51),(257.5,4),(259.8,37),(260.9,33),(263.2,-2),(264.4,39),(266.6,39),(269.5,19),(272.4,47),(275.2,15),(278,42),(280.3,-18),(282,-6),(283.2,-10),(284.3,11),(286.6,-4),(288.3,23),(289.5,-16),(290.6,-6),(296.3,-14),(299.7,-32),(301.5,-18),(303.4,-38),(304.3,-4),(306.6,-28),(310,-22),(311.7,0),(313.1,64),(315.7,37),(319.2,53),(321.4,74),(324.3,60),(327.1,53),(328.5,29),(330.2,55),(332.5,21),(335.1,44),(336.9,39),(338.6,64),(340.3,82),(342.6,68),(344.8,51),(346.3,66),(347.7,22),(351.1,-2),(353.4,-18),(356.2,-22),(359.7,-28),(361.4,-53),(362.5,-4),(364.2,-12),(366,-22),(368.2,9),(369.6,-4),(370.9,4),(372.2,13),(374.3,23),(375.7,-2),(377.4,-38),(378.5,-26),(382,-28),(384.8,-33),(387.6,-22),(389.4,-32),(391.1,-16),(392.5,21),(394,2),(396.5,40),(398.3,11),(399.7,33),(401.5,-2),(403.4,-2),(405.3,11),(407.2,-2),(409.6,-18),(411.5,-12),(412.8,-19),(415.6,0),(417.5,-10),(419.4,25),(422.2,20),(424.1,7),(427.8,2),(429.7,-24),(432.5,-26),(434.8,-64),(437.2,-32),(439.5,-10),(441,-18),(442.8,-4),(444.7,-20),(446.6,29),(448.5,50),(450.4,43),(452.2,17),(455,45),(456.9,39),(458.8,34),(461.6,43),(463.5,-6),(465.4,29),(467.3,45),(469.2,29),(470.4,16)]

# double stochastic as (bar, value)
STOCH_FAST = [(0,73),(1.2,61),(3,54),(5,54),(6.5,47),(8,18),(10.4,1),(12.6,1),(14.9,25),(17.2,40),(19.5,33),(21.8,47),(23.7,77),(25.3,77),(27.4,47),(30.1,93),(32.4,57),(34.4,11),(36.2,0),(39.3,17),(42.3,33),(46.1,40),(47.6,65),(49.2,99),(53,99),(55.3,65),(56.8,65),(58.3,99),(60.3,96),(63.2,43),(65.9,57),(67.7,95),(69.7,75),(72,63),(75,96),(79.6,89),(82.2,99),(84.9,75),(86.5,4),(90.3,0),(93.3,33),(96.3,73),(98.9,56),(102.4,75),(106.2,100),(110,1),(113.1,6),(115.4,2),(120,33),(123,99),(127.5,84),(129.8,75),(132.9,11),(135.9,34),(139,22),(142.5,89),(144.3,82),(148.1,29),(150.4,61),(153.1,36),(156.5,99),(160.3,86),(163.3,98),(167.9,96),(171,100),(177.8,99),(180.1,72),(183.1,1),(187.7,45),(191.5,52),(195.3,2),(199,51),(202.1,10),(205.2,34),(208.2,33),(211.3,1),(213.6,1),(218.1,59),(221,47),(223.3,86),(225.2,96),(230.1,1),(234.1,8),(238.7,26),(242.1,89),(246.7,72),(249,95),(252.4,100),(254.9,98),(259.2,24),(260.9,45),(263.2,17),(266.6,100),(268.4,97),(271.8,75),(277.5,34),(280.3,29),(284.3,50),(287.2,56),(288.3,79),(291.4,6),(293.5,15),(295.8,15),(299.7,2),(302.6,50),(304.5,77),(308.3,38),(310,41),(313.1,100),(316.9,82),(320.9,100),(323.2,93),(328.3,43),(332.9,33),(336.3,98),(340.3,100),(343.1,70),(345.4,24),(349.4,10),(353.4,1),(356.2,19),(359.1,1),(361.4,0),(364.2,77),(367.7,29),(370.5,89),(374,90),(377.4,4),(381.9,17),(384.8,43),(388.4,77),(391.2,57),(396.8,99),(398.7,82),(401.5,75),(406.6,11),(410.9,17),(415.6,88),(418.4,70),(420.3,98),(423.1,82),(427.8,10),(430.1,20),(432.9,0),(434.8,0),(438.5,84),(440.9,89),(446.6,73),(449,94),(453.2,75),(456.4,100),(459.7,73),(464.4,22),(467.6,93),(470.1,76)]
STOCH_SLOW_A = [(0,43),(4.3,40),(8.8,29),(14.9,13),(19.5,5),(23.3,8),(31.7,6),(37.7,4),(45.4,0),(51.4,8),(55.3,10),(60.6,18),(64.4,20),(68.9,41),(75.8,79),(82.6,96),(89.5,77),(94.8,65),(100.2,73),(106.2,93),(113.1,50),(118.4,24),(123,29),(129.8,51),(135.9,34),(141.2,19),(150.4,26),(156.5,22),(161,49),(167.1,82),(177.8,99),(183.9,89),(191.5,87),(199,87),(205.2,79),(209,79),(214.7,50),(219.3,31),(223.8,29),(229.5,26),(239.2,7),(243.2,20),(249,34),(257,61),(261.5,67),(268.4,72),(275.2,87),(280.9,74),(287.8,70),(293.5,50),(300.3,18),(308.3,6),(314,15),(324.3,89),(327.7,93),(335.7,89),(343.7,98),(348.3,89),(356.2,65),(365.4,43),(374.5,24),(379.1,11),(385.6,2),(391.2,8),(395.9,13),(402.5,17),(411.9,10),(417.5,17),(423.1,34),(428.8,31),(434.8,6),(441.9,13),(449.4,36),(454.1,45),(459.7,72),(464.4,74),(470.1,82)]
STOCH_SLOW_B = [(0,31),(7.3,40),(14.9,22),(20.2,10),(27.1,7),(37.7,6),(46.9,2),(54.5,6),(65.1,17),(73.5,36),(78.8,61),(86.5,91),(92.5,82),(100.2,71),(109.3,82),(115.4,63),(124.5,33),(135.2,43),(145.8,24),(155,24),(163.3,36),(171.7,82),(181.6,98),(191.5,88),(202.1,85),(209.7,79),(214.7,70),(220.4,47),(226.1,33),(235.2,27),(243.2,16),(249,20),(259.2,54),(264.9,65),(274,74),(279.8,80),(287.8,74),(296.9,61),(306,22),(312.9,9),(318.6,18),(326.6,63),(333.4,89),(340.3,92),(348.3,96),(355.1,82),(365.4,54),(376.8,29),(383.7,15),(391.2,5),(402.5,11),(408.1,15),(419.4,14),(430.6,30),(438.2,20),(443.8,11),(449.4,22),(458.8,50),(464.4,65),(470.1,77)]

DATE_BARS = [4.2,16.2,28.2,40.2,52.1,64.1,76.1,88.2,100.2,112.2,124.3,136.2,148.1,160.2,172.4,184.3,196.2,208.2,219.3,237.4,249.3,261.2,273.3,285.3,297.2,309.1,321.2,332.2,344.3,356.3,368.4,380.3,391.3,403.2,415.3,427.4,439.4,451.3,463.2,475.4,487.3,505.4,517.3,529.2,541.4,553.3,565.4,577.3,589.5,601.4,613.3,631.2,643.3]
DATE_LABELS = ["7","9","13","15","17","21","23","27","29","May","5","7","11","13","15","19","21","25","27","Jun","3","5","9","11","15","17","19","23","25","29","Jul","3","7","9","13","15","17","21","23","27","29","Aug","5","7","11","13","17","19","21","25","27","Sep","3"]
PRICE_TICKS = [102.2,102.0,101.8,101.6,101.4,101.2,100.8,100.6,100.4,100.2,100.0,99.8,99.6,99.4,99.2,99.0,98.8,98.6,98.4,98.2,98.0]

TABLE_HEAD = ["Symbol","Pattern","4H","D1","W1","M1","Bias","Trade"]
TABLE_ROW = ["DXY","-","Bearish","Bullish","CROSS UP","Bullish","Mixed","Flat"]
TABLE_FILL = ["#363a45","#1a1b1f","#6b0000","#004d00","#00e676","#004d00","#ff9800","#1a1b1f"]
TABLE_INK = ["#d1d4dc","#d1d4dc","#e8dcdc","#e0e8e0","#1f6e55","#e0e8e0","#ffffff","#d1d4dc"]
TABLE_EDGES = [1465,1525,1585,1646,1701,1784,1840,1891,1940]

W, H = 3481, 1476
sns.set_theme(style="dark", rc={"axes.facecolor": "none", "figure.facecolor": "#1e1e1e",
                                "axes.grid": False, "axes.edgecolor": "none"})
plt.rcParams["font.family"] = ["Roboto", "DejaVu Sans"]

fig = plt.figure(figsize=(W / 100, H / 100), dpi=100, facecolor="#1e1e1e")


def fx(x):
    return x / W


def fy(y):
    return 1 - y / H


def pane(x0, y0, x1, y1):
    return fig.add_axes([fx(x0), fy(y1), (x1 - x0) / W, (y1 - y0) / H])


def panel_rect(x0, y0, x1, y1, color, z=-5, **kw):
    fig.add_artist(Rectangle((fx(x0), fy(y1)), (x1 - x0) / W, (y1 - y0) / H, transform=fig.transFigure,
                             facecolor=color, edgecolor="none", zorder=z, **kw))


def chrome_text(x, y, s, color="#8a8a8a", size=9.5, z=8, **kw):
    kw.setdefault("va", "center")
    kw.setdefault("ha", "left")
    fig.text(fx(x), fy(y), s, color=color, fontsize=size, zorder=z, **kw)


def trace(ax, pts, color, lw, z=2, alpha=1.0, ls="-"):
    xs, ys = zip(*pts)
    sns.lineplot(x=list(xs), y=list(ys), ax=ax, color=color, linewidth=lw, estimator=None, sort=False,
                 legend=False, zorder=z, alpha=alpha, linestyle=ls, errorbar=None)
    ax.lines[-1].set_solid_capstyle("butt")
    return ax.lines[-1]


# page and separators
panel_rect(10, 27, 3471, 1415, "#000000")
for yy in (27, 117, 1070, 1237, 1271, 1415):
    panel_rect(10, yy - 0.7, 3471, yy + 0.7, "#2a2d36", z=7)
panel_rect(3470, 27, 3472, 1415, "#2a2d36", z=7)

BAR_PX = 5.03
XLIM = ((10 - 70) / BAR_PX, (3336 - 70) / BAR_PX)
PRICE_LIM = (102 - (1070 - 164) / 216.7, 102 + (164 - 117) / 216.7)
VOL_TOP = 167 / 31 * 5
STOCH_LIM = ((1377 - 1390) / 0.94, (1377 - 1271) / 0.94)

ax = pane(10, 117, 3336, 1070)
ax_prof = ax.twiny()
ax_vol = pane(10, 1070, 3336, 1237)
ax_cci = ax_vol.twinx()
ax_st = pane(10, 1271, 3336, 1390)

# volume profile sits under everything else in the price pane
ax_prof.set_zorder(0)
ax.set_zorder(1)
ax.patch.set_visible(False)
ax_prof.patch.set_visible(False)
buy = np.array(PROFILE_BUY, float)
sell = np.array(PROFILE_SELL, float)
rows = 101.494 - 0.04227 * np.arange(len(buy))
ax_prof.barh(rows, buy, height=0.036, color="#1a361d", linewidth=0)
ax_prof.barh(rows, sell, left=buy, height=0.036, color="#431514", linewidth=0)
ax_prof.set_xlim((10 - 70) * 1.568, (3336 - 70) * 1.568)
ax_prof.set_ylim(*PRICE_LIM)
ax_prof.set_xticks([])
for s in ax_prof.spines.values():
    s.set_visible(False)

# profile marks, pivots, fibonacci and zones
for lvl, col in zip(PROFILE_MARKS, PROFILE_MARK_COLORS):
    trace(ax, [(0, lvl), (132.2, lvl)], col, 0.85, z=1.6)
for band in (BAND_R3, BAND_R2, BAND_R1):
    trace(ax, band, "#6e2226", 0.95, z=2)
for band in (BAND_G1, BAND_G2, BAND_G3):
    trace(ax, band, "#2b5c2d", 0.95, z=2)
for seg in TRENDLINES_GRAY:
    trace(ax, seg, "#444444", 0.9, z=1.8)
trace(ax, TRENDLINE_DOWN, "#767676", 1.1, z=1.8)
for lvl, label, col, ink in zip(FIB_LEVELS, FIB_LABELS, FIB_COLORS, FIB_TEXT):
    trace(ax, [(341.2, lvl), (431.4, lvl)], col, 0.85, z=1.9)
    ax.text(339.4, lvl, label, color=ink, fontsize=9.8, ha="right", va="center", zorder=5)
for lvl, label in zip(PIVOT_LEVELS, PIVOT_LABELS):
    col = "#8f8f8f" if lvl != PIVOT_LEVELS[1] else "#b0b0b0"
    trace(ax, [(369.4, lvl), (505.2, lvl)], col, 0.9, z=1.9)
    ax.text(366.2, lvl, label, color="#8a8a8a", fontsize=9.8, ha="right", va="center", zorder=5)
for lvl, col, lw, ink in zip(ZONE_LEVELS, ZONE_COLORS, ZONE_WIDTHS, ZONE_TEXT):
    trace(ax, [(377.5, lvl), (476.3, lvl)], col, lw, z=2.2)
    ax.text(478.7, lvl, f"({lvl:.3f})", color=ink, fontsize=9.8, ha="left", va="center", zorder=5)
for seg in CHANNELS_BLUE:
    trace(ax, seg, "#1a44ad", 1.9, z=2.4)
for lvl in TARGET_UP:
    trace(ax, [(471.6, lvl), (476.6, lvl)], "#ff3b3b", 1.6, z=5)
for lvl in TARGET_DOWN:
    trace(ax, [(471.6, lvl), (476.6, lvl)], "#43a047", 1.6, z=5)

dotted = (0, (1, 3.2))
trace(ax, [(0, LAST_PRICE), (XLIM[1], LAST_PRICE)], "#b01818", 0.9, z=1.7, ls=dotted)
trace(ax, [(0, SUPPORT_DOTTED), (XLIM[1], SUPPORT_DOTTED)], "#e02020", 1.5, z=1.7, ls=(0, (1, 2.8)))
trace(ax, [(0, LOW_DOTTED), (XLIM[1], LOW_DOTTED)], "#f59a23", 1.5, z=3.8, ls=(0, (1, 2.8)))
trace(ax, PROJECTION, "#ff9800", 1.6, z=5, ls=(0, (2, 2.6)))

# averages
for seg in SLOW_RISING:
    trace(ax, seg, "#0c560c", 1.9, z=2.6)
for seg in SLOW_FALLING:
    trace(ax, seg, "#b30d0d", 1.9, z=2.6)
for seg in FAST_RISING:
    trace(ax, seg, "#0f6a0f", 3.1, z=3.2, alpha=0.9)
for seg in FAST_FALLING:
    trace(ax, seg, "#a81a12", 3.1, z=3.2, alpha=0.9)

# candles: one-pixel wicks and three-pixel bodies
opens = np.array(OPENS) / 100
closes = np.array(CLOSES) / 100
highs = np.array(HIGHS) / 100
lows = np.array(LOWS) / 100
bars = np.arange(len(closes))
rising = closes >= opens
wicks = ax.vlines(bars, lows, highs, color="#ffffff", linewidth=0.72, zorder=3)
wicks.set_snap(True)
body_low = np.minimum(opens, closes)
body_h = np.maximum(np.abs(closes - opens), 0.012)
ax.bar(bars, body_h, bottom=body_low, width=0.64, color=np.where(rising, "#0a7f0a", "#ff0000"), linewidth=0, zorder=4)
ax.set_xlim(*XLIM)
ax.set_ylim(*PRICE_LIM)
ax.set_xticks([])
ax.yaxis.tick_right()
ax.set_yticks(PRICE_TICKS, [f"{v:.3f}" for v in PRICE_TICKS])
ax.tick_params(axis="y", length=0, pad=6.5, labelsize=9.5, labelcolor="#8a8a8a")
for lab, v in zip(ax.get_yticklabels(), PRICE_TICKS):
    if abs(v - round(v)) < 1e-6:
        lab.set_fontweight("bold")
        lab.set_color("#b2b2b2")
for s in ax.spines.values():
    s.set_visible(False)

# volume pane
vol_k = np.array(VOLUME, float) / 10
nv = min(len(vol_k), len(bars))
ax_vol.bar(bars[:nv], vol_k[:nv], width=0.66, color=np.where(rising[:nv], "#285a28", "#7a2a2a"), linewidth=0)
ax_vol.set_xlim(*XLIM)
ax_vol.set_ylim(0, VOL_TOP)
ax_vol.set_xticks([])
ax_vol.yaxis.tick_right()
ax_vol.set_yticks([5, 10, 15, 20, 25], ["5K", "10K", "15K", "20K", "25K"])
ax_vol.tick_params(axis="y", length=0, pad=6.5, labelsize=9.5, labelcolor="#8a8a8a")
ax_vol.get_yticklabels()[3].set_fontweight("bold")
ax_vol.get_yticklabels()[3].set_color("#b2b2b2")

cci_top = 94 / 32.7 * 40
cci_bot = -73 / 32.7 * 40
ax_cci.set_xlim(*XLIM)
ax_cci.set_ylim(cci_bot, cci_top)
trace(ax_cci, [(0, 0), (471, 0)], "#8e44ad", 1.5, z=2)
above = trace(ax_cci, CCI, "#4caf50", 2.8, z=3)
above.set_clip_path(Rectangle((XLIM[0], 0), XLIM[1] - XLIM[0], cci_top, transform=ax_cci.transData))
below = trace(ax_cci, CCI, "#ff5252", 2.8, z=3)
below.set_clip_path(Rectangle((XLIM[0], cci_bot), XLIM[1] - XLIM[0], -cci_bot, transform=ax_cci.transData))
ax_cci.yaxis.tick_right()
ax_cci.set_yticks([80, 40, 0, -40, -80], ["80.000", "40.000", "0.000", "-40.000", "-80.000"])
ax_cci.tick_params(axis="y", length=0, pad=55, labelsize=9.5, labelcolor="#8a8a8a")
for a in (ax_vol, ax_cci):
    a.patch.set_visible(False)
    for s in a.spines.values():
        s.set_visible(False)

# stochastic pane
trace(ax_st, [(0, 80), (XLIM[1], 80)], "#f23030", 1.15, z=2)
trace(ax_st, [(0, 20), (XLIM[1], 20)], "#4caf50", 1.15, z=2)
trace(ax_st, [(0, 50), (XLIM[1], 50)], "#4a4a4a", 0.9, z=1, ls=(0, (3, 3)))
trace(ax_st, STOCH_SLOW_A, "#2e8b3a", 0.95, z=3)
trace(ax_st, STOCH_SLOW_B, "#e53935", 0.95, z=3)
trace(ax_st, STOCH_FAST, "#2e8b3a", 0.95, z=3)
lagged = [(b + 1.4, v) for b, v in STOCH_FAST if b + 1.4 <= 470.5]
trace(ax_st, lagged, "#e53935", 0.95, z=3)
ax_st.set_xlim(*XLIM)
ax_st.set_ylim(*STOCH_LIM)
ax_st.set_yticks([])
ax_st.patch.set_visible(False)
ax_st.set_xticks(DATE_BARS, DATE_LABELS)
ax_st.tick_params(axis="x", length=0, pad=3, labelsize=9.5, labelcolor="#8a8a8a")
for lab in ax_st.get_xticklabels():
    if lab.get_text() in ("May", "Jun", "Jul", "Aug", "Sep"):
        lab.set_color("#c4c4c4")
        lab.set_fontweight("bold")
for s in ax_st.spines.values():
    s.set_visible(False)

# scale labels outside the axes
for txt, yy in (("0.000", 72.7), ("\u22120.500", 108.5)):
    chrome_text(3345, yy, txt)
for txt, yy in (("80.00", 1303), ("40.00", 1339), ("0.00", 1377)):
    chrome_text(60, yy, txt, ha="right")
for txt, yy in (("80.00", 1303), ("40.00", 1342), ("0.00", 1382)):
    chrome_text(3344, yy, txt)

# USD selector and last price tag
fig.add_artist(FancyBboxPatch((fx(3339), fy(57)), 60 / W, 26 / H, boxstyle="round,pad=0,rounding_size=0.001",
                              transform=fig.transFigure, facecolor="#131313", edgecolor="#303030", linewidth=1, zorder=7,
                              mutation_aspect=W / H))
chrome_text(3348, 44, "USD", color="#d4d4d4", size=9.5, fontweight="medium")
panel_rect(3336, 369, 3398, 400, "#ff0000", z=7)
chrome_text(3345, 377.5, f"{LAST_PRICE:.3f}", color="#ffffff")
chrome_text(3345, 391.5, "53:05", color="#ffb0b0")

# status table
for left, right, head, cell, fill, ink in zip(TABLE_EDGES[:-1], TABLE_EDGES[1:], TABLE_HEAD, TABLE_ROW, TABLE_FILL, TABLE_INK):
    cx = (left + right) / 2
    panel_rect(left + 0.5, 37, right - 0.5, 63, "#363a45", z=7)
    panel_rect(left + 0.5, 64, right - 0.5, 90, "#363a45" if cell == "DXY" else fill, z=7)
    chrome_text(cx, 50, head, color="#d1d4dc", size=10, ha="center")
    chrome_text(cx, 77, cell, color=ink, size=10, ha="center")

# header and footer
chrome_text(11, 13, "Tickmill created with TradingView.com, Jul 24, 2026 09:06 UTC+2", color="#d6d6d6", size=10, fontweight="medium")
panel_rect(12, 1438, 27, 1443, "#e6e6e6", z=8)
panel_rect(20, 1438, 27, 1453, "#e6e6e6", z=8)
fig.add_artist(Ellipse((fx(32), fy(1440.5)), 5.4 / W, 5.4 / H, transform=fig.transFigure, facecolor="#e6e6e6", edgecolor="none", zorder=8))
fig.add_artist(Polygon([(fx(35), fy(1438)), (fx(42), fy(1438)), (fx(35), fy(1453)), (fx(28), fy(1453))],
                       transform=fig.transFigure, facecolor="#e6e6e6", edgecolor="none", zorder=8))
chrome_text(49, 1446, "TradingView", color="#e6e6e6", size=16.5, fontweight="medium")
for cx, letter in ((40, "Z"), (3370, "A"), (3437, "B")):
    fig.add_artist(Ellipse((fx(cx), fy(1403)), 20 / W, 20 / H, transform=fig.transFigure, facecolor="#202227", edgecolor="none", zorder=7))
    chrome_text(cx, 1403, letter, color="#8a8a8a", size=8, ha="center")

fig.savefig("out.png", dpi=100, facecolor=fig.get_facecolor())
